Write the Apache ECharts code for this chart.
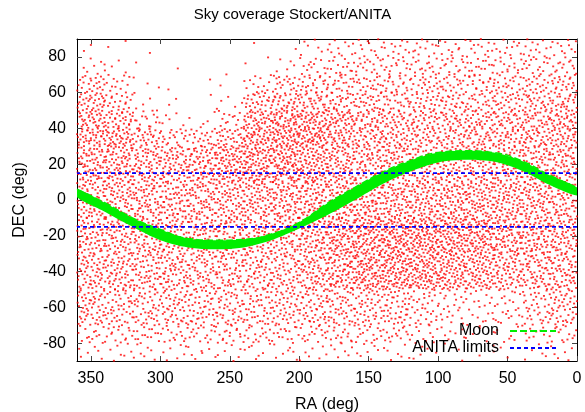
<!DOCTYPE html>
<html>
<head>
<meta charset="utf-8">
<script src="https://cdn.jsdelivr.net/npm/echarts@6/dist/echarts.min.js"></script>
<style>
html, body { margin: 0; background: #fff; }
#main { width: 585px; height: 412px; }
</style>
</head>
<body>
<div id="main"></div>
<script>
// tick labels
var raTicks = [0, 50, 100, 150, 200, 250, 300, 350];
var decTicks = [-80, -60, -40, -20, 0, 20, 40, 60, 80];

// events per cell
// columns: RA 360-340 ... 20-0 (upper edge in raBins), rows between decEdges (top down)
var raBins = [360, 340, 320, 300, 280, 260, 240, 220, 200, 180, 160, 140, 120, 100, 80, 60, 40, 20];
var decEdges = [90, 80, 70, 60, 50, 40, 30, 10, -10, -30, -50, -70, -80, -90];
var skyCounts = [
    [2, 2, 1, 0, 0, 0, 1, 1, 6, 11, 12, 12, 12, 12, 12, 12, 12, 12],
    [7, 4, 1, 1, 0, 1, 2, 5, 13, 16, 16, 16, 16, 16, 16, 16, 16, 16],
    [23, 13, 3, 1, 1, 1, 13, 20, 23, 22, 21, 21, 21, 21, 21, 21, 22, 24],
    [33, 20, 5, 2, 1, 5, 26, 33, 30, 27, 26, 25, 24, 24, 25, 25, 27, 30],
    [36, 33, 16, 5, 5, 13, 40, 46, 46, 40, 33, 31, 30, 29, 31, 31, 33, 36],
    [40, 40, 30, 20, 20, 30, 46, 50, 50, 40, 33, 32, 30, 30, 32, 32, 33, 36],
    [72, 72, 65, 65, 72, 85, 91, 91, 85, 72, 65, 65, 62, 62, 62, 65, 65, 65],
    [65, 65, 65, 65, 65, 65, 68, 72, 72, 72, 75, 72, 72, 72, 75, 72, 68, 65],
    [62, 62, 62, 62, 62, 62, 62, 62, 72, 85, 94, 98, 98, 94, 91, 78, 72, 68],
    [59, 59, 59, 59, 55, 55, 55, 55, 65, 78, 91, 94, 91, 85, 75, 65, 62, 62],
    [52, 46, 46, 46, 46, 46, 46, 46, 49, 49, 46, 46, 33, 23, 20, 23, 36, 49],
    [14, 16, 16, 16, 16, 16, 16, 16, 16, 16, 16, 16, 11, 7, 6, 7, 11, 14],
    [6, 7, 7, 7, 7, 7, 7, 7, 7, 7, 7, 7, 5, 3, 2, 3, 5, 6]
];

// moon track band (upper / lower edge of the green band)
var moonRA = [360, 340, 320, 300, 280, 260, 240, 220, 200, 180, 160, 140, 120, 100, 80, 60, 40, 20, 0];
var moonTop = [6, -1.5, -10, -16.5, -21.5, -22.5, -22, -19, -12.5, -2, 7, 15.5, 22, 26.5, 27.5, 26.5, 22, 14, 7];
var moonBottom = [1.5, -6.5, -15, -22.5, -26.5, -27.5, -26.5, -22.5, -16, -8.5, 0, 9, 16, 21, 22.5, 21.5, 16.5, 8.5, 2.5];

var anitaLimits = [15, -15];

var font = 'Liberation Sans, Arial, sans-serif';

// spread each cell's events over the cell (halton placement)
function halton(i, b) {
    var f = 1, r = 0;
    while (i > 0) { f = f / b; r += f * (i % b); i = Math.floor(i / b); }
    return r;
}
var events = [];
var k = 1;
skyCounts.forEach(function (row, r) {
    var hi = decEdges[r], h = decEdges[r] - decEdges[r + 1];
    row.forEach(function (n, c) {
        for (var j = 0; j < n; j++, k++) {
            events.push([raBins[c] - 20 * halton(k, 2), hi - h * halton(k, 3)]);
        }
    });
});

function xAx(pos, show) {
    return {
        type: 'value', position: pos, min: 0, max: 360, inverse: true,
        name: show ? 'RA (deg)' : '', nameLocation: 'middle', nameGap: 36,
        nameTextStyle: { fontSize: 16, color: '#000', fontFamily: font },
        axisLine: { show: true, onZero: false, lineStyle: { color: '#000', width: 1 } },
        axisTick: { show: true, inside: true, length: 5, customValues: raTicks, lineStyle: { color: '#444' } },
        axisLabel: { show: show, customValues: raTicks, margin: 10, fontSize: 16, color: '#000', fontFamily: font },
        splitLine: { show: false }
    };
}
function yAx(pos, show) {
    return {
        type: 'value', position: pos, min: -90, max: 90,
        name: show ? 'DEC (deg)' : '', nameLocation: 'middle', nameGap: 49, nameRotate: 90,
        nameTextStyle: { fontSize: 16, color: '#000', fontFamily: font },
        axisLine: { show: true, onZero: false, lineStyle: { color: '#000', width: 1 } },
        axisTick: { show: true, inside: true, length: 5, customValues: decTicks, lineStyle: { color: '#444' } },
        axisLabel: { show: show, customValues: decTicks, margin: 11, fontSize: 16, color: '#000', fontFamily: font },
        splitLine: { show: false }
    };
}

function legendAt(name, top) {
    return {
        data: [name], right: 28, top: top, padding: 0, align: 'right', itemWidth: 46, itemHeight: 14,
        itemStyle: { opacity: 0 },
        textStyle: { fontSize: 16, color: '#000', fontFamily: font, padding: [0, 6, 0, 0] }
    };
}

var chart = echarts.init(document.getElementById('main'));
chart.setOption({
    animation: false,
    title: {
        text: 'Sky coverage Stockert/ANITA', left: 'center', top: 2,
        textStyle: { fontSize: 15, fontWeight: 'normal', color: '#000', fontFamily: font }
    },
    grid: { left: 77, right: 8, top: 39, bottom: 51, outerBoundsMode: 'none', containLabel: false },
    xAxis: [xAx('bottom', true), xAx('top', false)],
    yAxis: [yAx('left', true), yAx('right', false)],
    legend: [legendAt('Moon', 323), legendAt('ANITA limits', 340)],
    series: [
        {
            name: 'events', type: 'scatter', data: events, large: true, largeThreshold: 2000,
            symbol: 'rect', symbolSize: [2, 1.8], itemStyle: { color: '#ff0000' }, z: 1
        },
        {
            type: 'custom', clip: true, z: 2,
            data: moonRA.map(function (ra, i) { return [ra, moonTop[i], moonBottom[i]]; }),
            encode: { x: 0, y: [1, 2] },
            renderItem: function (params, api) {
                if (params.dataIndex !== 0) return;
                var pts = [];
                for (var i = 0; i < moonRA.length; i++) pts.push(api.coord([moonRA[i], moonTop[i]]));
                for (var j = moonRA.length - 1; j >= 0; j--) pts.push(api.coord([moonRA[j], moonBottom[j]]));
                return { type: 'polygon', shape: { points: pts, smooth: 0.3 }, style: { fill: '#00ee00' } };
            }
        },
        {
            name: 'Moon', type: 'line', smooth: true, symbol: 'none', z: 3,
            data: moonRA.map(function (ra, i) { return [ra, moonTop[i]]; }),
            lineStyle: { color: '#00ee00', width: 1.5, type: [7, 3] }, itemStyle: { color: '#00ee00' }
        },
        {
            name: 'ANITA limits', type: 'line', symbol: 'none', z: 4,
            data: [[0, anitaLimits[0]], [360, anitaLimits[0]]],
            lineStyle: { color: '#0000ff', width: 1.8, type: [4, 3] }, itemStyle: { color: '#0000ff' }
        },
        {
            name: 'ANITA limits', type: 'line', symbol: 'none', z: 4,
            data: [[0, anitaLimits[1]], [360, anitaLimits[1]]],
            lineStyle: { color: '#0000ff', width: 1.8, type: [4, 3] }, itemStyle: { color: '#0000ff' }
        }
    ]
});
</script>
</body>
</html>
